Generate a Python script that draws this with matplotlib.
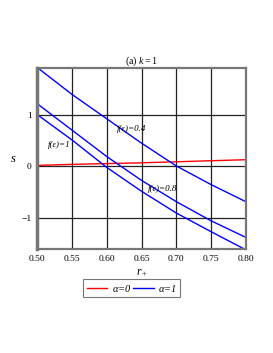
import matplotlib
matplotlib.use("Agg")
import matplotlib.pyplot as plt

# r_+ sample points
r_plus = [0.50, 0.55, 0.60, 0.65, 0.70, 0.75, 0.80]

# alpha = 0 (red)
s_alpha0 = [0.02, 0.04, 0.055, 0.07, 0.09, 0.11, 0.13]

# alpha = 1 (blue), three values of f(eps)
s_f04 = [1.91, 1.39, 0.92, 0.45, 0.01, -0.35, -0.68]
s_f1 = [1.21, 0.70, 0.19, -0.27, -0.68, -1.05, -1.37]
s_f08 = [1.00, 0.51, -0.02, -0.48, -0.90, -1.26, -1.61]

x_ticks = [0.50, 0.55, 0.60, 0.65, 0.70, 0.75, 0.80]
y_ticks = [-1, 0, 1]

plt.rcParams["font.family"] = ["Liberation Serif", "DejaVu Serif"]
plt.rcParams["mathtext.fontset"] = "custom"
plt.rcParams["mathtext.rm"] = "Liberation Serif"
plt.rcParams["mathtext.it"] = "Liberation Serif:italic"

fig = plt.figure(figsize=(2.73, 3.53), dpi=100)
ax = fig.add_axes([0.137, 0.294, 0.763, 0.513])

ax.plot(r_plus, s_alpha0, color="#ff0000", lw=1.0, label=r"$\alpha$=0")
ax.plot(r_plus, s_f04, color="#0000ff", lw=1.0, label=r"$\alpha$=1")
ax.plot(r_plus, s_f1, color="#0000ff", lw=1.0)
ax.plot(r_plus, s_f08, color="#0000ff", lw=1.0)

ax.set_xlim(0.50, 0.80)
ax.set_ylim(-1.6, 1.9)
ax.set_xticks(x_ticks)
ax.set_xticklabels([f"{v:.2f}" for v in x_ticks])
ax.set_yticks(y_ticks)
ax.set_yticklabels(["\u22121", "0", "1"])
ax.tick_params(length=0, labelsize=6.8, pad=4)
ax.grid(True, color="#222222", lw=0.9)
ax.set_axisbelow(True)
for sp in ax.spines.values():
    sp.set_color("#777777")
    sp.set_linewidth(1.6)
ax.spines["left"].set_linewidth(2.5)

ax.set_title(r"(a) $\mathit{k=1}$", fontsize=7.2, pad=2)
ax.set_xlabel(r"$r_+$", fontsize=8.5, labelpad=3)
ax.set_ylabel(r"$s$", fontsize=9, rotation=0, labelpad=6, va="center")

lab = dict(fontsize=6.5, style="italic")
ax.text(0.636, 0.72, "f(\u03b5)=0.4", ha="center", va="center", **lab)
ax.text(0.532, 0.41, "f(\u03b5)=1", ha="center", va="center", **lab)
ax.text(0.680, -0.43, "f(\u03b5)=0.8", ha="center", va="center", **lab)

leg = fig.legend(loc="center", bbox_to_anchor=(0.482, 0.184), ncol=2,
                 fontsize=7.5, frameon=True, fancybox=False, edgecolor="#555555",
                 handlelength=2.0, handletextpad=0.4, columnspacing=0.2,
                 borderpad=0.3, borderaxespad=0)
leg.get_frame().set_linewidth(0.8)
for t in leg.get_texts():
    t.set_fontstyle("italic")

fig.savefig("out.png", dpi=100)
